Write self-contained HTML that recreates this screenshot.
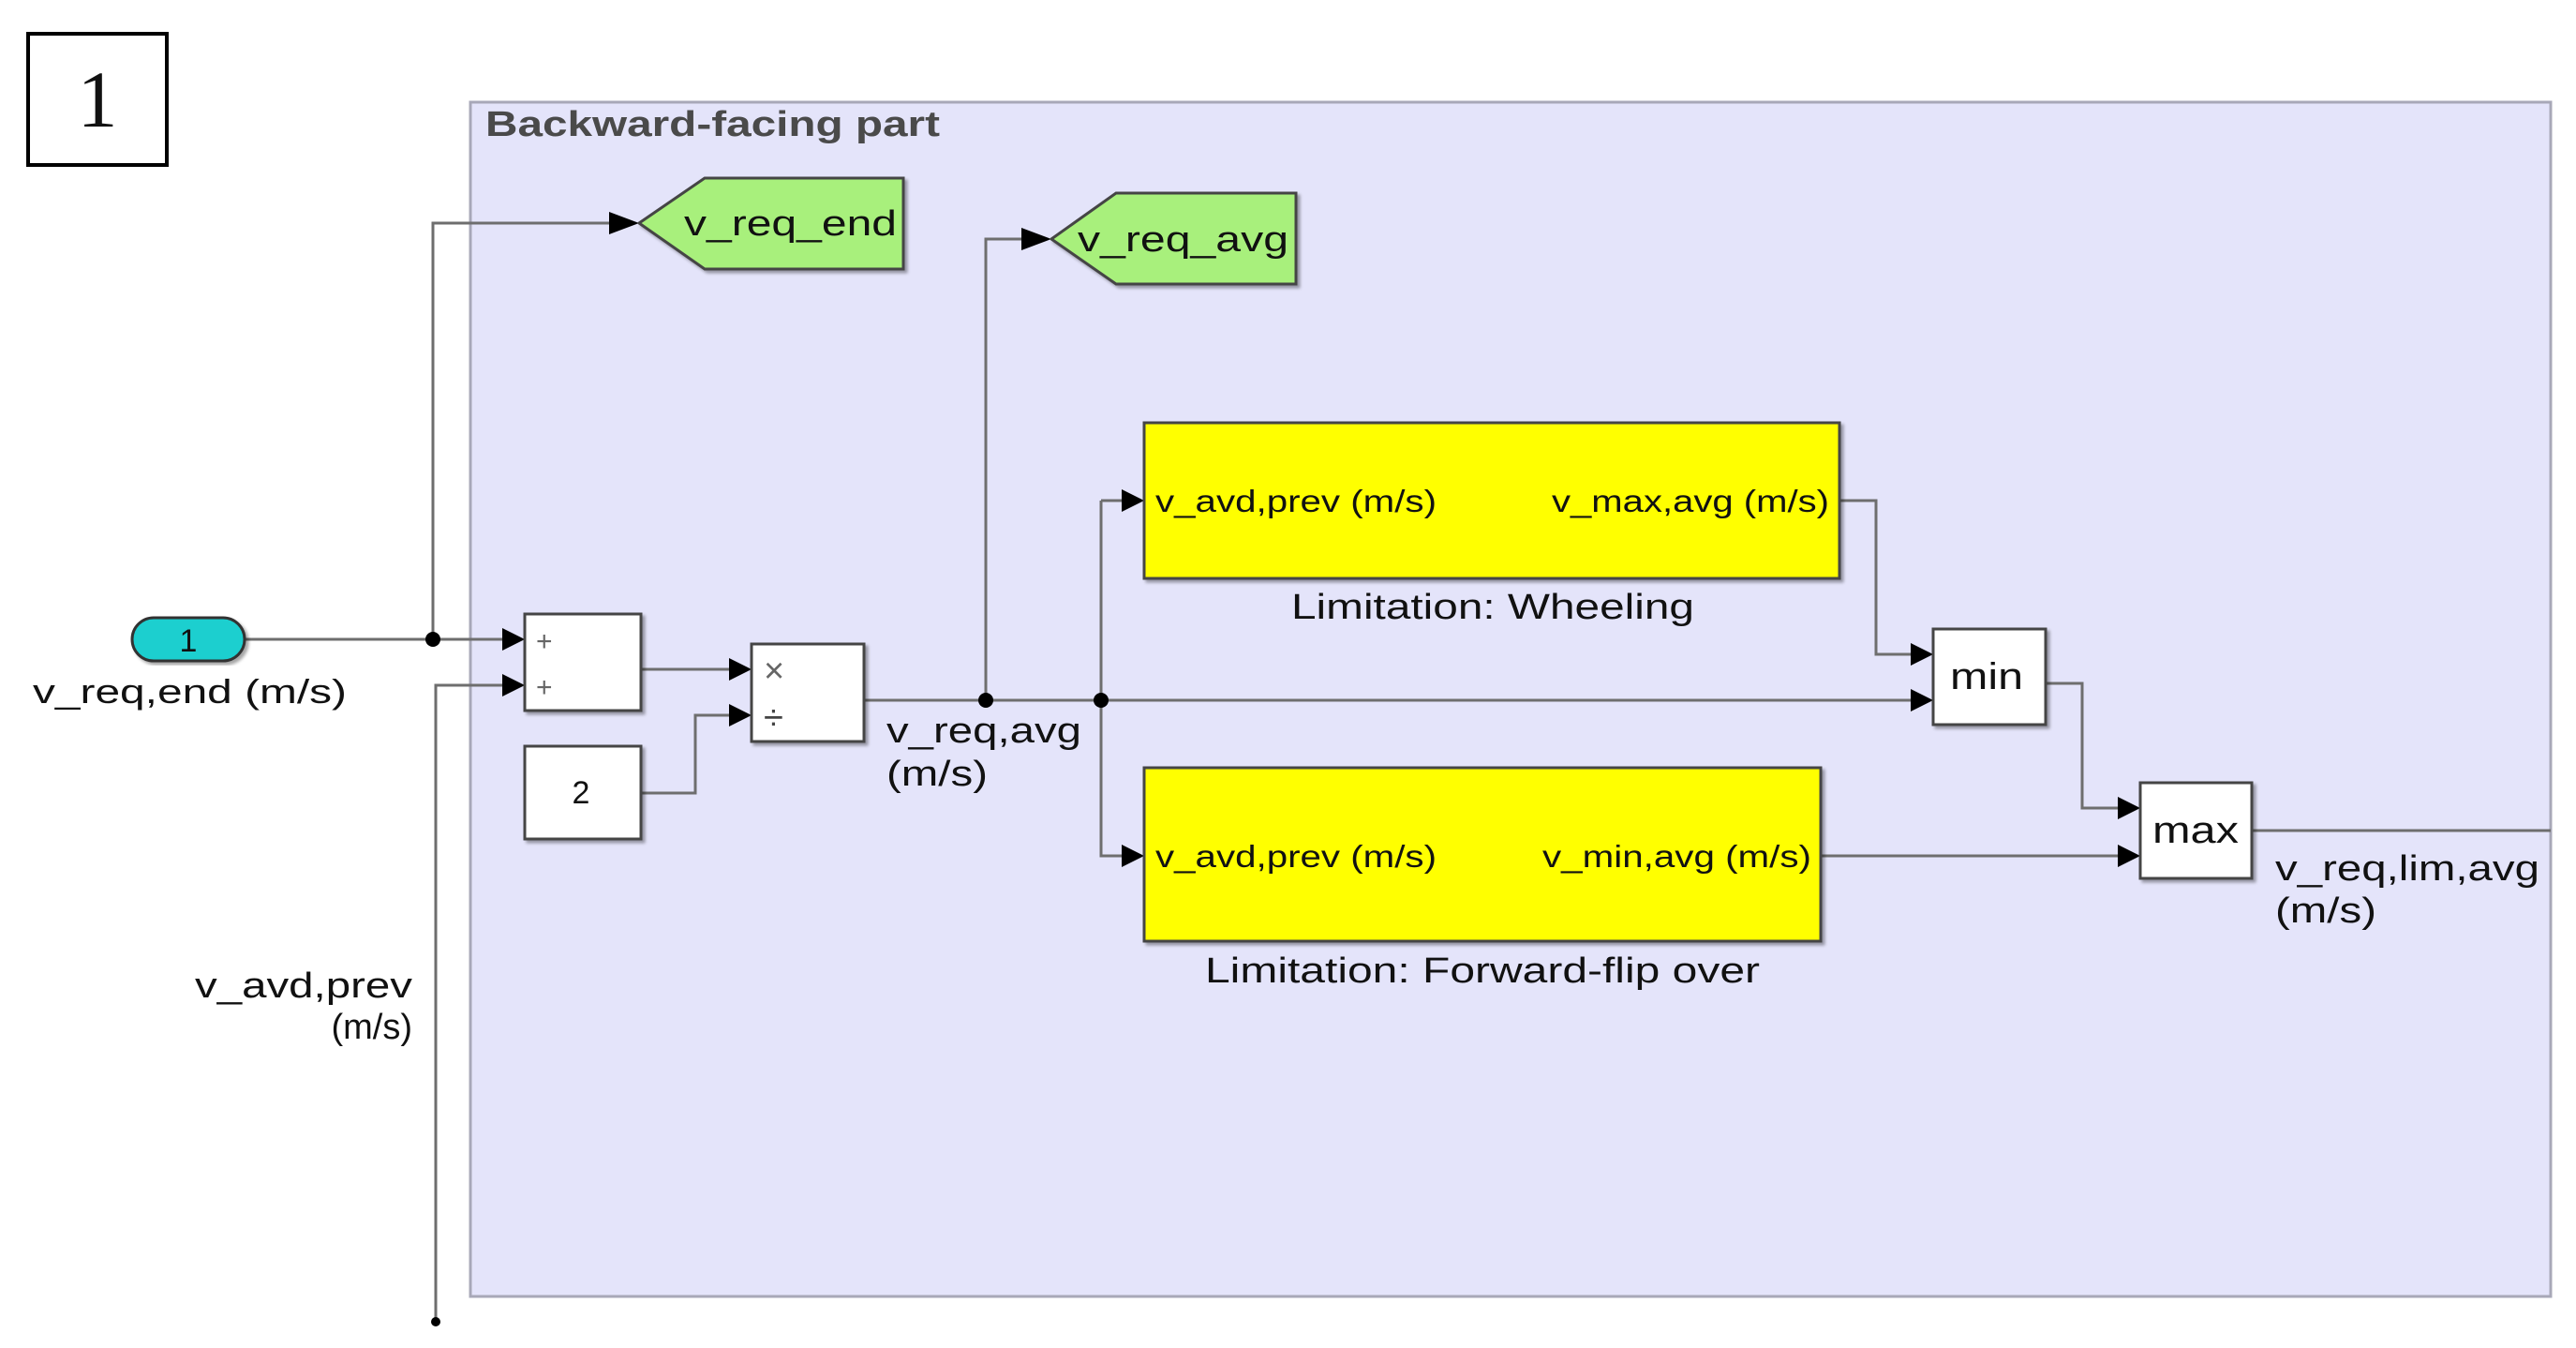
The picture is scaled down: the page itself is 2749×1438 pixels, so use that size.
<!DOCTYPE html>
<html><head><meta charset="utf-8"><style>
html,body{margin:0;padding:0;background:#fff;}
svg{display:block;}
text{font-family:"Liberation Sans",Arial,sans-serif;fill:#111;}
</style></head><body>
<svg width="2749" height="1438" viewBox="0 0 2749 1438" xmlns="http://www.w3.org/2000/svg">
<defs>
<filter id="sh" x="-5%" y="-5%" width="115%" height="115%"><feDropShadow dx="3" dy="3" stdDeviation="1.5" flood-color="#000" flood-opacity="0.35"/></filter>
</defs>
<rect width="2749" height="1438" fill="#fff"/>
<rect x="30" y="36" width="148" height="140" fill="#fff" stroke="#000" stroke-width="4"/>
<text x="104" y="135" font-size="86" text-anchor="middle" style="font-family:'Liberation Serif',serif">1</text>
<rect x="502" y="109" width="2220" height="1274" fill="#e4e4fa" stroke="#a8a8b8" stroke-width="3"/>
<text x="518" y="145" font-size="38" font-weight="bold" style="fill:#4a4a4a" textLength="485" lengthAdjust="spacingAndGlyphs">Backward-facing part</text>

<g stroke="#6e6e6e" stroke-width="3" fill="none">
<line x1="261" y1="682" x2="540" y2="682"/>
<polyline points="462,682 462,238 652,238"/>
<polyline points="465,1410 465,731 540,731"/>
<polyline points="684,714 782,714"/>
<polyline points="684,846 742,846 742,763 782,763"/>
<polyline points="922,747 2043,747"/>
<polyline points="1052,747 1052,255 1092,255"/>
<polyline points="1175,534 1175,913 1201,913"/>
<polyline points="1175,534 1201,534"/>
<polyline points="1963,534 2002,534 2002,698 2043,698"/>
<polyline points="2183,729 2222,729 2222,862 2264,862"/>
<polyline points="1943,913 2264,913"/>
<polyline points="2403,886 2722,886"/>
</g>
<g fill="#000">
<polygon points="536,670 560,682 536,694"/>
<polygon points="536,719 560,731 536,743"/>
<polygon points="778,702 802,714 778,726"/>
<polygon points="778,751 802,763 778,775"/>
<polygon points="650,226 682,238 650,250"/>
<polygon points="1090,243 1122,255 1090,267"/>
<polygon points="1197,522 1221,534 1197,546"/>
<polygon points="1197,901 1221,913 1197,925"/>
<polygon points="2039,686 2063,698 2039,710"/>
<polygon points="2039,735 2063,747 2039,759"/>
<polygon points="2260,850 2284,862 2260,874"/>
<polygon points="2260,901 2284,913 2260,925"/>
<circle cx="462" cy="682" r="8"/>
<circle cx="1052" cy="747" r="8"/>
<circle cx="1175" cy="747" r="8"/>
<circle cx="465" cy="1410" r="5"/>
</g>

<polygon points="682,238 752,190 964,190 964,287 752,287" fill="#a8f07c" stroke="#444" stroke-width="3" filter="url(#sh)"/>
<text x="730" y="251" font-size="38" textLength="227" lengthAdjust="spacingAndGlyphs">v_req_end</text>
<polygon points="1122,255 1191,206 1383,206 1383,303 1191,303" fill="#a8f07c" stroke="#444" stroke-width="3" filter="url(#sh)"/>
<text x="1150" y="268" font-size="38" textLength="225" lengthAdjust="spacingAndGlyphs">v_req_avg</text>

<rect x="141" y="659" width="120" height="46" rx="23" fill="#1fcfcf" stroke="#333" stroke-width="3" filter="url(#sh)"/>
<text x="201" y="695" font-size="34" text-anchor="middle">1</text>
<text x="35" y="750" font-size="36" textLength="335" lengthAdjust="spacingAndGlyphs">v_req,end (m/s)</text>

<rect x="560" y="655" width="124" height="103" fill="#fff" stroke="#444" stroke-width="3" filter="url(#sh)"/>
<text x="572" y="694" font-size="30" style="fill:#666">+</text>
<text x="572" y="743" font-size="30" style="fill:#666">+</text>
<rect x="802" y="687" width="120" height="104" fill="#fff" stroke="#444" stroke-width="3" filter="url(#sh)"/>
<text x="815" y="728" font-size="38" style="fill:#666">×</text>
<text x="815" y="778" font-size="38" style="fill:#444">÷</text>
<rect x="560" y="796" width="124" height="99" fill="#fff" stroke="#444" stroke-width="3" filter="url(#sh)"/>
<text x="620" y="857" font-size="34" text-anchor="middle">2</text>

<text x="946" y="792" font-size="38" textLength="208" lengthAdjust="spacingAndGlyphs">v_req,avg</text>
<text x="946" y="838" font-size="38" textLength="108" lengthAdjust="spacingAndGlyphs">(m/s)</text>

<text x="208" y="1064" font-size="38" textLength="232" lengthAdjust="spacingAndGlyphs">v_avd,prev</text>
<text x="440" y="1108" font-size="38" text-anchor="end">(m/s)</text>

<rect x="1221" y="451" width="742" height="166" fill="#ffff00" stroke="#444" stroke-width="3" filter="url(#sh)"/>
<text x="1233" y="546" font-size="33" textLength="300" lengthAdjust="spacingAndGlyphs">v_avd,prev (m/s)</text>
<text x="1656" y="546" font-size="33" textLength="296" lengthAdjust="spacingAndGlyphs">v_max,avg (m/s)</text>
<text x="1378" y="660" font-size="38" textLength="430" lengthAdjust="spacingAndGlyphs">Limitation: Wheeling</text>
<rect x="1221" y="819" width="722" height="185" fill="#ffff00" stroke="#444" stroke-width="3" filter="url(#sh)"/>
<text x="1233" y="925" font-size="33" textLength="300" lengthAdjust="spacingAndGlyphs">v_avd,prev (m/s)</text>
<text x="1646" y="925" font-size="33" textLength="287" lengthAdjust="spacingAndGlyphs">v_min,avg (m/s)</text>
<text x="1286" y="1048" font-size="38" textLength="592" lengthAdjust="spacingAndGlyphs">Limitation: Forward-flip over</text>

<rect x="2063" y="671" width="120" height="102" fill="#fff" stroke="#444" stroke-width="3" filter="url(#sh)"/>
<text x="2081" y="735" font-size="40" textLength="78" lengthAdjust="spacingAndGlyphs">min</text>
<rect x="2284" y="835" width="119" height="102" fill="#fff" stroke="#444" stroke-width="3" filter="url(#sh)"/>
<text x="2297" y="899" font-size="40" textLength="92" lengthAdjust="spacingAndGlyphs">max</text>

<text x="2428" y="939" font-size="38" textLength="282" lengthAdjust="spacingAndGlyphs">v_req,lim,avg</text>
<text x="2428" y="984" font-size="38" textLength="108" lengthAdjust="spacingAndGlyphs">(m/s)</text>
</svg>
</body></html>
